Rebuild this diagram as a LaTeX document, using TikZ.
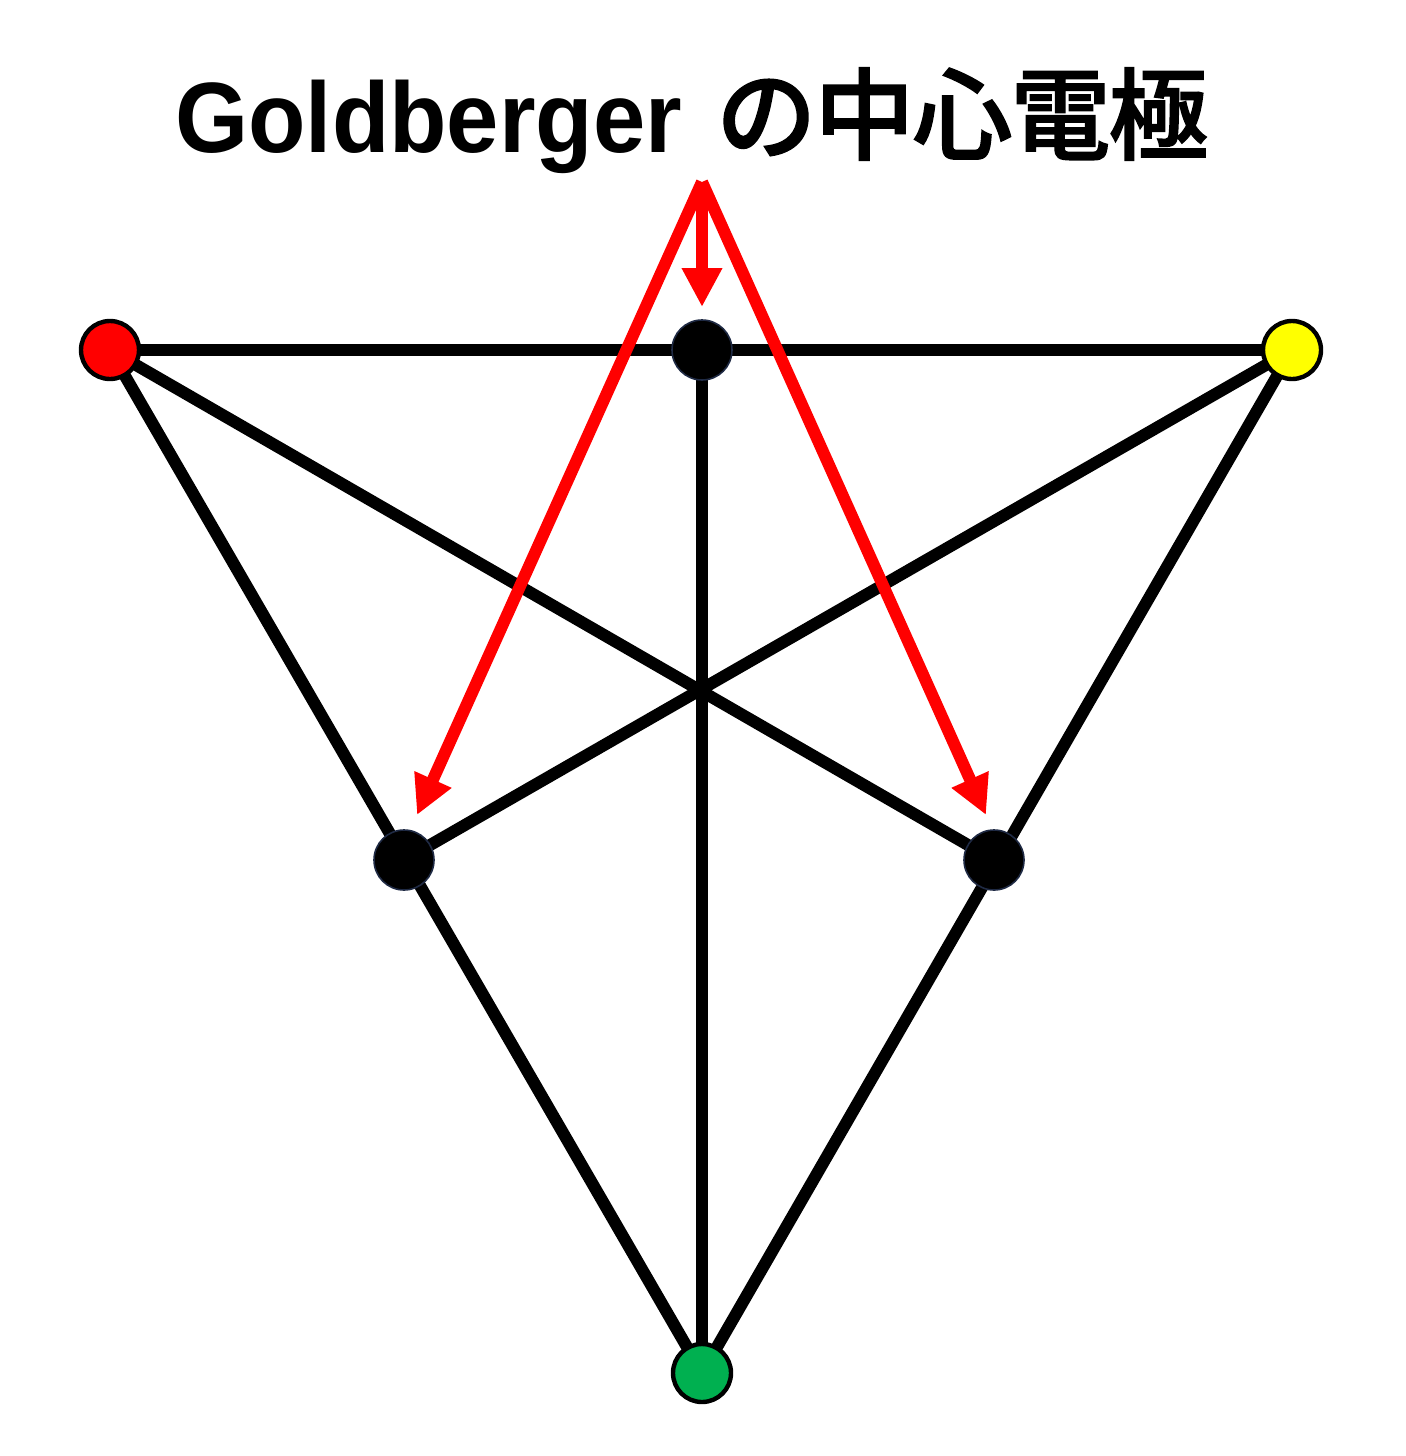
\documentclass[tikz,border=0pt]{standalone}
\usepackage{fontspec}
\setmainfont{Liberation Sans}
\newfontfamily\cjk{Noto Sans CJK JP Medium}[UprightFeatures={FakeBold=1.5}]
\usetikzlibrary{arrows.meta}
\definecolor{nodered}{HTML}{FF0000}
\definecolor{nodeyellow}{HTML}{FFFF00}
\definecolor{nodegreen}{HTML}{00B050}
\definecolor{rimnavy}{HTML}{1F2A44}
\newcommand{\jch}[1]{\makebox[49pt]{#1}}
\begin{document}
\begin{tikzpicture}[x=0.5pt,y=-0.5pt,
  wire/.style={line width=6pt,black},
  redarrow/.style={line width=6pt,nodered,-{Triangle[length=19.5pt,width=19pt]}},
  colnode/.style={circle,draw=black,line width=2.2pt,minimum size=29pt,inner sep=0pt},
  blknode/.style={circle,draw=rimnavy,fill=black,line width=0.8pt,minimum size=30pt,inner sep=0pt}]
\useasboundingbox (0,0) rectangle (1406,1456);
\fill[white] (0,0) rectangle (1406,1456);
% nodes
\coordinate (R) at (110,350);
\coordinate (T) at (702,350);
\coordinate (Y) at (1292,350);
\coordinate (L) at (404,860);
\coordinate (Rb) at (994,860);
\coordinate (G) at (702,1373);
% wires
\draw[wire] (R) -- (Y);
\draw[wire] (R) -- (G);
\draw[wire] (Y) -- (G);
\draw[wire] (R) -- (Rb);
\draw[wire] (Y) -- (L);
\draw[wire] (T) -- (G);
% red arrows
\coordinate (src) at (702,182);
\coordinate (tipT) at (702,307);
\coordinate (tipL) at (417,815);
\coordinate (tipR) at (986,815);
\draw[redarrow] (src) -- (tipT);
\draw[redarrow] (src) -- (tipL);
\draw[redarrow] (src) -- (tipR);
% electrode nodes
\node[colnode,fill=nodered] (nR) at (R) {};
\node[colnode,fill=nodeyellow] (nY) at (Y) {};
\node[colnode,fill=nodegreen] (nG) at (G) {};
\node[blknode] (nT) at (T) {};
\node[blknode] (nL) at (L) {};
\node[blknode] (nRb) at (Rb) {};
% title
\node[anchor=base west,inner sep=0pt] (title) at (175,152)
  {\fontsize{50pt}{56pt}\selectfont\bfseries\makebox[271pt][l]{\scalebox{0.94}[1]{Goldberger}}%
   {\cjk\mdseries\fontsize{50pt}{56pt}\selectfont\jch{の}\jch{中}\jch{心}\jch{電}\jch{極}}};
\end{tikzpicture}
\end{document}
